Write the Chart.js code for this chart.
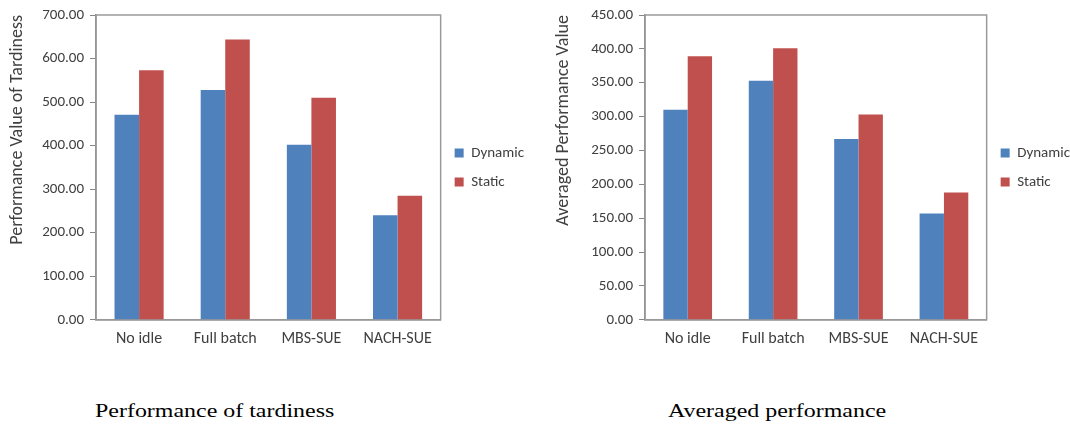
<!DOCTYPE html>
<html>
<head>
<meta charset="utf-8">
<script src="https://cdn.jsdelivr.net/npm/chart.js@4"></script>
<style>
  html, body { margin: 0; padding: 0; background: #fff; }
  body { width: 1070px; height: 425px; position: relative; overflow: hidden; }
  .panel { position: absolute; top: 0; }
  #wrapA { left: 0; width: 544px; height: 365px; }
  #wrapB { left: 540px; width: 545px; height: 365px; }
  .caption {
    position: absolute; top: 400px;
    font-family: "Liberation Serif", "Times New Roman", serif;
    font-size: 19px; color: #000; white-space: nowrap;
    transform: scaleX(1.26); transform-origin: 0 0;
  }
  #capA { left: 95px; }
  #capB { left: 668px; }
</style>
</head>
<body>
<div class="panel" id="wrapA"><canvas id="chartA"></canvas></div>
<div class="panel" id="wrapB"><canvas id="chartB"></canvas></div>
<div class="caption" id="capA">Performance of tardiness</div>
<div class="caption" id="capB">Averaged performance</div>
<script>
// Dispatching rules compared in both panels
const categories = ['No idle', 'Full batch', 'MBS-SUE', 'NACH-SUE'];

// Tardiness performance
const tardinessDynamic = [471, 528, 402, 240];
const tardinessStatic  = [573, 644, 510, 285];

// Averaged performance
const averagedDynamic = [310, 353, 267, 157];
const averagedStatic  = [389, 401, 303, 188];

const seriesNames = ['Dynamic', 'Static'];
const BLUE = '#4F81BD';
const RED = '#C0504D';
const FONT = '"Carlito", "Lato", "Open Sans", sans-serif';
const TEXT = '#404040';

// outline the whole plot area, Excel style
const frame = {
  id: 'frame',
  beforeDatasetsDraw(chart) {
    const a = chart.chartArea, c = chart.ctx;
    c.save();
    c.strokeStyle = '#9a9a9a';
    c.lineWidth = 1.5;
    c.strokeRect(a.left, a.top, a.right - a.left, a.bottom - a.top);
    c.restore();
  }
};

function build(id, dyn, sta, maxV, step, yTitle, yWidth, pad) {
  return new Chart(document.getElementById(id), {
    type: 'bar',
    data: {
      labels: categories,
      datasets: [
        { label: seriesNames[0], data: dyn, backgroundColor: BLUE },
        { label: seriesNames[1], data: sta, backgroundColor: RED }
      ]
    },
    options: {
      responsive: true,
      maintainAspectRatio: false,
      animation: false,
      layout: { padding: pad },
      datasets: { bar: { categoryPercentage: 0.57, barPercentage: 1.0 } },
      plugins: {
        tooltip: { enabled: false },
        legend: {
          position: 'right',
          fullSize: false,
          labels: {
            boxWidth: 9, boxHeight: 9, padding: 14,
            color: TEXT, font: { family: FONT, size: 15 }
          }
        }
      },
      scales: {
        x: {
          grid: { display: false, drawTicks: false },
          border: { color: '#868686', width: 1.5 },
          ticks: { color: TEXT, padding: 10, font: { family: FONT, size: 16 } }
        },
        y: {
          min: 0, max: maxV,
          afterFit(scale) { scale.width = yWidth; },
          grid: { drawOnChartArea: false, tickLength: 6, color: '#868686' },
          border: { color: '#868686', width: 1.5 },
          ticks: {
            stepSize: step, padding: 6, color: TEXT,
            font: { family: FONT, size: 15 },
            callback: v => v.toFixed(2)
          },
          title: {
            display: true, text: yTitle, color: TEXT, padding: 0, align: 'end',
            font: { family: FONT, size: 18 }
          }
        }
      }
    },
    plugins: [frame]
  });
}

build('chartA', tardinessDynamic, tardinessStatic, 700, 100,
      'Performance Value of Tardiness', 89, { left: 7, top: 9, right: 10, bottom: 6 });
build('chartB', averagedDynamic, averagedStatic, 450, 50,
      'Averaged Performance Value', 92, { left: 13, top: 9, right: 5, bottom: 6 });
</script>
</body>
</html>
